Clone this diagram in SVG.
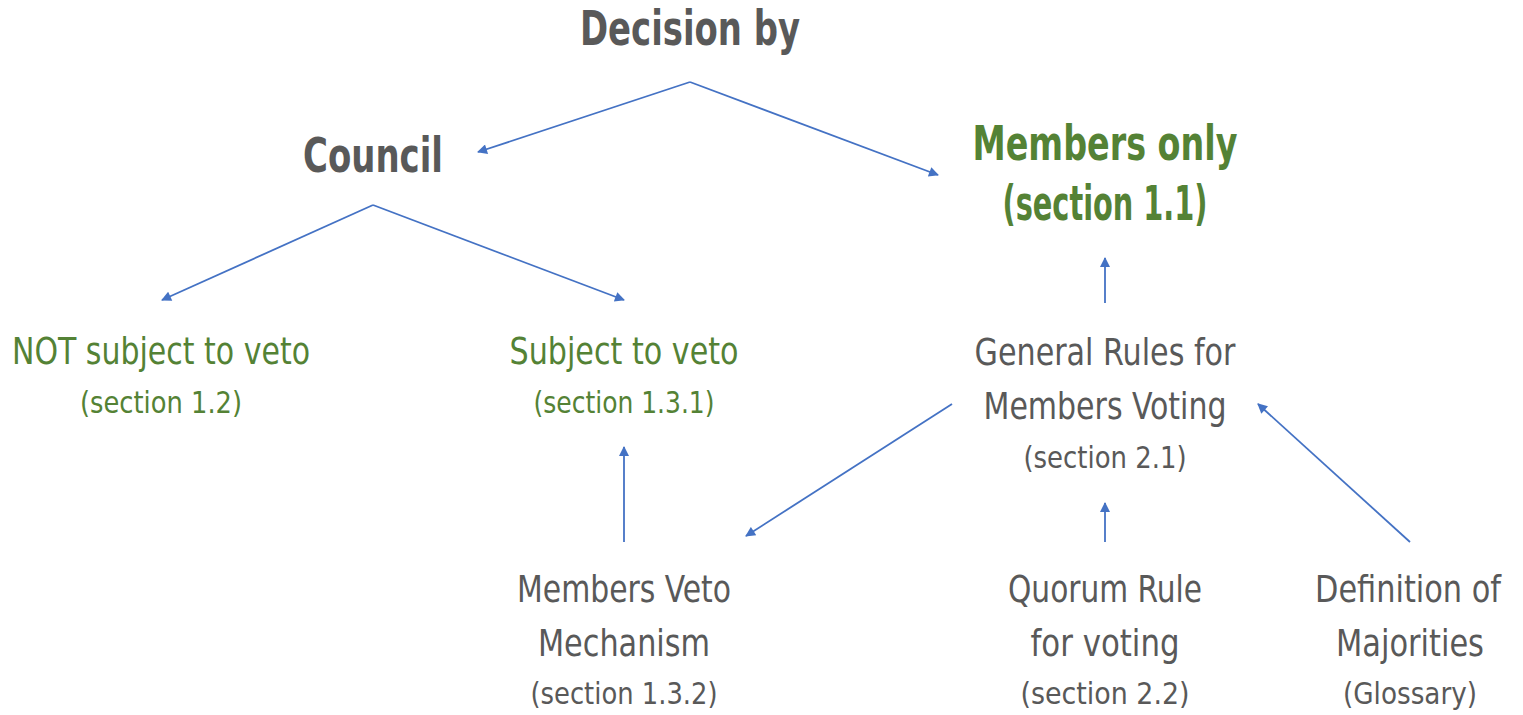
<svg xmlns="http://www.w3.org/2000/svg" width="1523" height="715" viewBox="0 0 1523 715">
<style>
text{font-family:"Liberation Sans Narrow","DejaVu Sans Condensed","Liberation Sans",sans-serif;text-anchor:middle}
.g{fill:#595959}.gr{fill:#548235}
.h{font-size:48px;font-weight:bold}
.b{font-size:38px}
.s{font-size:31px}
.c line{stroke:#4472C4;stroke-width:1.8;marker-end:url(#ah)}
</style>
<defs>
<marker id="ah" viewBox="0 0 10 10" refX="9" refY="5" markerWidth="12" markerHeight="10" markerUnits="userSpaceOnUse" orient="auto"><path d="M0,0L10,5L0,10z" fill="#4472C4"/></marker>
</defs>
<g class="c">
<line x1="690" y1="82" x2="478" y2="152"/>
<line x1="690" y1="82" x2="938" y2="175"/>
<line x1="373" y1="205" x2="162" y2="300"/>
<line x1="373" y1="205" x2="624" y2="300"/>
<line x1="1105" y1="303" x2="1105" y2="258"/>
<line x1="952" y1="404" x2="746" y2="536"/>
<line x1="624" y1="542" x2="624" y2="447"/>
<line x1="1105" y1="542" x2="1105" y2="503"/>
<line x1="1410" y1="542" x2="1258" y2="404"/>
</g>
<g id="decision"><text class="h g" x="690" y="45" textLength="220" lengthAdjust="spacingAndGlyphs">Decision by</text></g>
<g id="council"><text class="h g" x="373" y="172" textLength="140" lengthAdjust="spacingAndGlyphs">Council</text></g>
<g id="members-only"><text class="h gr" x="1105" y="160" textLength="265" lengthAdjust="spacingAndGlyphs">Members only</text><text class="h gr" x="1105" y="220" textLength="205" lengthAdjust="spacingAndGlyphs">(section 1.1)</text></g>
<g id="not-veto"><text class="b gr" x="161" y="364" textLength="298" lengthAdjust="spacingAndGlyphs">NOT subject to veto</text><text class="s gr" x="161" y="413" textLength="162" lengthAdjust="spacingAndGlyphs">(section 1.2)</text></g>
<g id="veto"><text class="b gr" x="624" y="364" textLength="229" lengthAdjust="spacingAndGlyphs">Subject to veto</text><text class="s gr" x="624" y="413" textLength="181" lengthAdjust="spacingAndGlyphs">(section 1.3.1)</text></g>
<g id="general"><text class="b g" x="1105" y="365" textLength="261" lengthAdjust="spacingAndGlyphs">General Rules for</text><text class="b g" x="1105" y="419" textLength="243" lengthAdjust="spacingAndGlyphs">Members Voting</text><text class="s g" x="1105" y="468" textLength="163" lengthAdjust="spacingAndGlyphs">(section 2.1)</text></g>
<g id="veto-mech"><text class="b g" x="624" y="602" textLength="214" lengthAdjust="spacingAndGlyphs">Members Veto</text><text class="b g" x="624" y="656" textLength="172" lengthAdjust="spacingAndGlyphs">Mechanism</text><text class="s g" x="624" y="704" textLength="187" lengthAdjust="spacingAndGlyphs">(section 1.3.2)</text></g>
<g id="quorum"><text class="b g" x="1105" y="602" textLength="194" lengthAdjust="spacingAndGlyphs">Quorum Rule</text><text class="b g" x="1105" y="656" textLength="149" lengthAdjust="spacingAndGlyphs">for voting</text><text class="s g" x="1105" y="704" textLength="169" lengthAdjust="spacingAndGlyphs">(section 2.2)</text></g>
<g id="majorities"><text class="b g" x="1408" y="602" textLength="186" lengthAdjust="spacingAndGlyphs">Definition of</text><text class="b g" x="1410" y="656" textLength="148" lengthAdjust="spacingAndGlyphs">Majorities</text><text class="s g" x="1410" y="704" textLength="134" lengthAdjust="spacingAndGlyphs">(Glossary)</text></g>
</svg>
